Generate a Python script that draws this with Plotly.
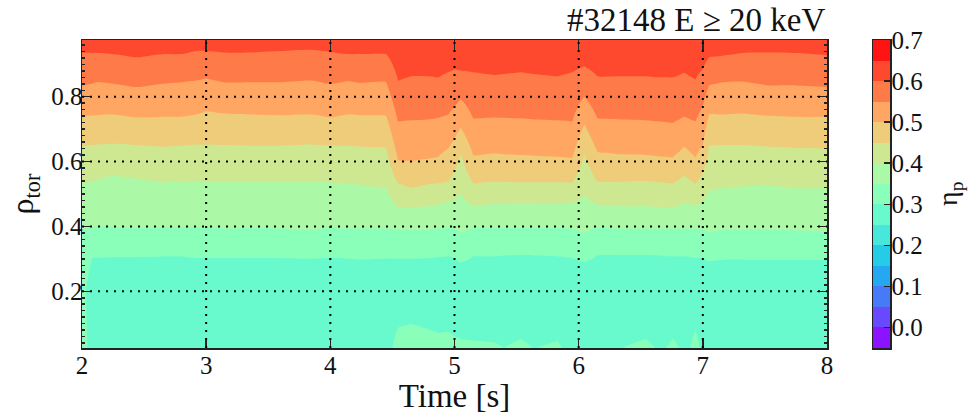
import math
import numpy as np
import plotly.graph_objects as go

# ---------------- data ----------------
# time knots [s]
time_s = [2.00, 2.08, 2.12, 2.25, 2.44, 2.65, 2.80, 2.92, 3.00, 3.14,
          3.35, 3.60, 3.85, 4.00, 4.14, 4.25, 4.45, 4.545, 4.65, 4.79,
          4.87, 4.95, 5.00, 5.05, 5.15, 5.32, 5.40, 5.535, 5.64, 5.83,
          5.95, 6.045, 6.15, 6.34, 6.54, 6.62, 6.70, 6.76, 6.81, 6.85,
          6.90, 6.94, 7.00, 7.05, 7.16, 7.32, 7.53, 7.75, 8.00]

# rho_tor position of each eta_p contour level at each time knot
rho_eta060 = [.937, .936, .935, .932, .922, .932, .932, .942, .942, .937,
              .937, .942, .945, .939, .932, .932, .932, .850, .863, .863,
              .860, .876, .884, .881, .876, .867, .870, .876, .870, .863,
              .876, .894, .863, .863, .863, .860, .860, .860, .867, .874,
              .862, .853, .886, .922, .927, .935, .937, .935, .929]
rho_eta055 = [.835, .840, .845, .840, .830, .840, .845, .850, .857, .845,
              .845, .845, .850, .840, .848, .843, .845, .724, .727, .730,
              .735, .745, .768, .792, .733, .736, .735, .733, .730, .727,
              .724, .799, .733, .730, .727, .724, .722, .720, .730, .738,
              .730, .724, .773, .835, .845, .847, .835, .835, .830]
rho_eta050 = [.741, .742, .743, .745, .736, .738, .738, .745, .755, .748,
              .745, .743, .745, .736, .745, .743, .741, .605, .602, .608,
              .615, .640, .671, .704, .620, .625, .622, .620, .618, .615,
              .612, .714, .630, .622, .620, .617, .615, .613, .630, .646,
              .628, .612, .651, .745, .745, .748, .741, .738, .738]
rho_eta045 = [.649, .651, .653, .655, .651, .646, .649, .653, .653, .651,
              .649, .649, .653, .649, .649, .646, .643, .533, .518, .530,
              .533, .538, .569, .625, .533, .538, .537, .536, .536, .536,
              .536, .625, .538, .538, .540, .538, .535, .533, .545, .557,
              .543, .530, .564, .649, .651, .651, .646, .643, .640]
rho_eta040 = [.533, .538, .543, .559, .548, .536, .540, .538, .538, .538,
              .538, .538, .538, .536, .533, .528, .518, .458, .458, .462,
              .467, .477, .482, .502, .462, .469, .470, .472, .471, .469,
              .472, .497, .467, .462, .462, .460, .459, .458, .465, .472,
              .468, .465, .477, .513, .518, .523, .528, .518, .518]
rho_eta035 = [.390, .396, .400, .397, .395, .397, .397, .397, .397, .393,
              .395, .393, .390, .395, .393, .393, .393, .390, .390, .390,
              .393, .395, .393, .380, .395, .395, .395, .395, .395, .395,
              .393, .380, .397, .393, .393, .393, .393, .393, .393, .393,
              .393, .393, .393, .380, .390, .390, .390, .387, .385]
rho_eta030 = [None, .300, .303, .305, .305, .308, .308, .303, .303, .303,
              .303, .303, .301, .303, .301, .298, .301, .301, .301, .303,
              .305, .308, .303, .288, .308, .308, .310, .313, .311, .308,
              .303, .291, .311, .313, .313, .311, .309, .308, .308, .308,
              .306, .303, .303, .293, .298, .298, .298, .298, .298]
# eta_p on the innermost rho_tor row and the core minimum (at rho_tor = 0.2)
eta_axis = [.325, .280, .280, .280, .280, .280, .280, .280, .280, .280,
            .280, .280, .280, .280, .280, .280, .280, .317, .322, .3147,
            .311, .312, .308, .3057, .3045, .3034, .3002, .3057, .2995, .3043,
            .290, .285, .285, .2998, .3057, .2998, .2998, .3057, .2998, .295,
            .2995, .3135, .290, .280, .280, .280, .280, .280, .280]
eta_trough = [.320] + [.270] * 48
eta_edge = 0.64          # eta_p at the outermost rho_tor row

rho_min, rho_trough, rho_max = 0.025, 0.20, 0.975
level_start, level_end, level_step = -0.05, 0.70, 0.05
boundary_levels = [0.30, 0.35, 0.40, 0.45, 0.50, 0.55, 0.60]
boundary_rhos = [rho_eta030, rho_eta035, rho_eta040, rho_eta045,
                 rho_eta050, rho_eta055, rho_eta060]

x_ticks = [2, 3, 4, 5, 6, 7, 8]
y_ticks = [0.2, 0.4, 0.6, 0.8]
cbar_ticks = [0.0, 0.1, 0.2, 0.3, 0.4, 0.5, 0.6, 0.7]

# ---------------- build the grid for the contour ----------------
rho_grid = np.round(np.arange(rho_min, rho_max + 1e-9, 0.005), 4)
z = np.empty((len(rho_grid), len(time_s)))
for j in range(len(time_s)):
    xp = [rho_min, rho_trough]
    fp = [eta_axis[j], eta_trough[j]]
    for lev, arr in zip(boundary_levels, boundary_rhos):
        if arr[j] is None:
            continue
        xp.append(arr[j])
        fp.append(lev)
    xp.append(rho_max)
    fp.append(eta_edge)
    z[:, j] = np.interp(rho_grid, xp, fp)

# matplotlib "rainbow" colours for the 15 filled bands
n_bands = int(round((level_end - level_start) / level_step))
alpha = 0.92


def rainbow(x):
    r = min(1.0, abs(2 * x - 0.5))
    g = math.sin(math.pi * x)
    b = math.cos(math.pi * x / 2)
    r, g, b = [alpha * c + (1 - alpha) for c in (r, g, b)]
    return "rgb(%d,%d,%d)" % (round(r * 255), round(g * 255), round(b * 255))


band_colors = [rainbow(k / (n_bands - 1)) for k in range(n_bands)]

# contour: plotly evaluates band k at s=(k+1)/(n_bands+1)
nseg = n_bands + 1
contour_scale = []
for k, c in enumerate(band_colors):
    lo = 0.0 if k == 0 else (k + 0.5) / nseg
    hi = 1.0 if k == n_bands - 1 else (k + 1.5) / nseg
    contour_scale += [[lo, c], [hi, c]]

# colour bar drawn as a one-column heatmap of the bands
cbar_scale = []
for k, c in enumerate(band_colors):
    cbar_scale += [[k / n_bands, c], [(k + 1) / n_bands, c]]
band_edges = [round(level_start + k * level_step, 4) for k in range(n_bands + 1)]
band_index = [[k] for k in range(n_bands)]

FONT = "Liberation Serif"
INK = "#111"

# layout geometry (pixels; the page body margin is removed below)
W, H = 968, 420
ML, MT = 82, 40
plot_r, plot_b = 827, 348
MR, MB = 10, H - plot_b
area_w = W - ML - MR
main_right = (plot_r - ML) / area_w
cb_left, cb_right = (873 - ML) / area_w, (890 - ML) / area_w
eta_x = (949 - ML) / area_w

fig = go.Figure()
fig.add_trace(go.Contour(
    x=time_s, y=rho_grid, z=z,
    autocontour=False,
    contours=dict(start=level_start, end=level_end, size=level_step,
                  coloring="fill", showlines=False),
    line=dict(width=0),
    colorscale=contour_scale, showscale=False,
    hoverinfo="skip", xaxis="x", yaxis="y",
))
fig.add_trace(go.Heatmap(
    x=[0, 1], y=band_edges, z=band_index,
    zmin=-0.5, zmax=n_bands - 0.5, colorscale=cbar_scale, showscale=False,
    hoverinfo="skip", xaxis="x2", yaxis="y2",
))

# dotted grid drawn above the filled contours
grid_line = dict(color="black", width=2, dash="2px,6px")
for t in x_ticks[1:-1]:
    fig.add_shape(type="line", xref="x", yref="y", x0=t, x1=t, y0=rho_min, y1=rho_max,
                  line=grid_line, layer="above")
for r in y_ticks:
    fig.add_shape(type="line", xref="x", yref="y", x0=x_ticks[0], x1=x_ticks[-1], y0=r, y1=r,
                  line=grid_line, layer="above")

axis_common = dict(showline=True, linecolor="#222", linewidth=1.5, mirror="ticks",
                   ticks="inside", ticklen=10, tickwidth=1.5, tickcolor="#222",
                   showgrid=False, zeroline=False, layer="above traces", automargin=False,
                   tickfont=dict(family=FONT, size=25, color=INK))

fig.update_layout(
    xaxis=dict(domain=[0, main_right], range=[2, 8], tickvals=x_ticks, anchor="y",
               ticklabelstandoff=-6,
               title=dict(text="Time [s]", font=dict(family=FONT, size=33, color=INK),
                          standoff=2),
               **axis_common),
    yaxis=dict(domain=[0, 1], range=[rho_min, rho_max], tickvals=y_ticks, tickformat=".1f",
               anchor="x", ticklabelstandoff=-7,
               minor=dict(dtick=0.02, ticklen=3, ticks="inside", tickcolor="#222",
                          showgrid=False),
               title=dict(text="ρ<sub>tor</sub>", font=dict(family=FONT, size=32, color=INK),
                          standoff=8),
               **axis_common),
    xaxis2=dict(domain=[cb_left, cb_right], range=[0, 1], anchor="y2",
                showline=True, linecolor="#222", linewidth=1.5, mirror=True,
                ticks="", showticklabels=False, showgrid=False, zeroline=False,
                automargin=False, layer="above traces"),
    yaxis2=dict(domain=[0, 1], range=[level_start, level_end], anchor="x2", side="right",
                tickvals=cbar_ticks, tickformat=".1f", ticklabelstandoff=-5,
                showline=True, linecolor="#222", linewidth=1.5, mirror=True,
                ticks="inside", ticklen=6, tickwidth=1.5, tickcolor="#222",
                showgrid=False, zeroline=False, automargin=False, layer="above traces",
                tickfont=dict(family=FONT, size=25, color=INK)),
    width=W, height=H,
    margin=dict(l=ML, r=MR, t=MT, b=MB),
    paper_bgcolor="white", plot_bgcolor="white",
    showlegend=False,
)

fig.add_annotation(text="#32148 E ≥ 20 keV", xref="paper", yref="paper",
                   x=main_right, y=1, xanchor="right", yanchor="bottom", yshift=0,
                   showarrow=False, font=dict(family=FONT, size=33, color=INK))
fig.add_annotation(text="η<sub>p</sub>", xref="paper", yref="paper",
                   x=eta_x, y=0.5, xanchor="center", yanchor="middle",
                   textangle=-90, showarrow=False,
                   font=dict(family=FONT, size=28, color=INK))

fig.write_html("out.html",
               config={"displayModeBar": False, "staticPlot": True},
               post_script="document.body.style.margin='0';document.body.style.overflow='hidden';")
